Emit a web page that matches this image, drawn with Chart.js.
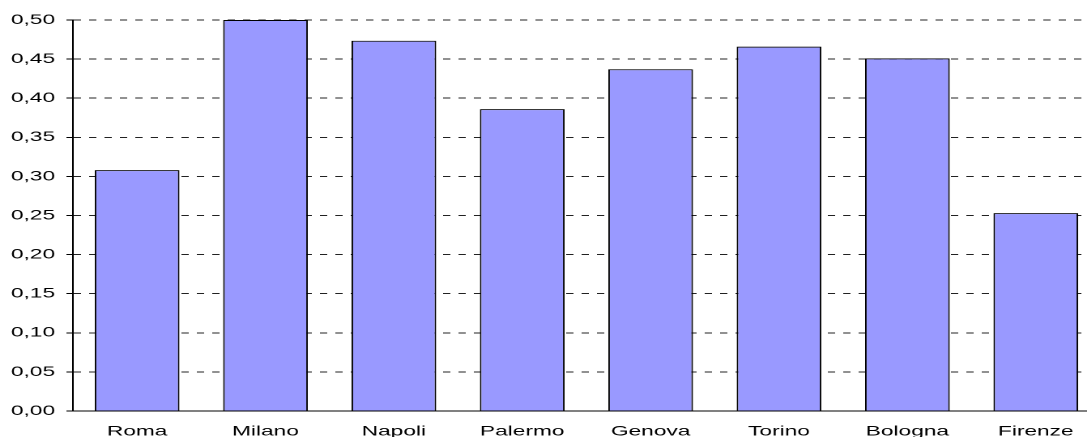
<!DOCTYPE html>
<html>
<head>
<meta charset="utf-8">
<script src="https://cdn.jsdelivr.net/npm/chart.js@4"></script>
<style>
	html, body { margin: 0; padding: 0; background: #fff; }
	#clip { width: 1087px; height: 437px; overflow: hidden; }
	/* the reference is stretched sideways, text included, so draw narrow and scale */
	#wrap { position: relative; width: 679px; height: 437px; transform: scaleX(1.62); transform-origin: 0 0; }
</style>
</head>
<body>
<div id="clip"><div id="wrap"><canvas id="chart"></canvas></div></div>
<script>
	const cities = [ 'Roma', 'Milano', 'Napoli', 'Palermo', 'Genova', 'Torino', 'Bologna', 'Firenze' ];
	const values = [ 0.308, 0.50, 0.4735, 0.386, 0.437, 0.466, 0.451, 0.253 ];
	const yTicks = [ 0, 0.05, 0.10, 0.15, 0.20, 0.25, 0.30, 0.35, 0.40, 0.45, 0.50 ];

	const font = { family: "'Liberation Sans', Arial, sans-serif", size: 14 };

	new Chart( document.getElementById( 'chart' ), {
		type: 'bar',
		data: {
			labels: cities,
			datasets: [ {
				data: values,
				backgroundColor: '#9999ff',
				borderColor: '#000',
				borderWidth: 1,
				borderSkipped: 'bottom',
				barPercentage: 0.66,
				categoryPercentage: 1,
			} ],
		},
		options: {
			responsive: true,
			maintainAspectRatio: false,
			devicePixelRatio: 2,
			animation: false,
			layout: { padding: { top: 20, right: 0, bottom: 0, left: 0 } },
			plugins: { legend: { display: false }, tooltip: { enabled: false } },
			scales: {
				x: {
					grid: { display: false, drawTicks: false },
					border: { display: true, color: '#000', width: 1 },
					ticks: { color: '#000', font, padding: 12, maxRotation: 0 },
					afterFit: ( s ) => { s.height = 26; },
				},
				y: {
					min: 0,
					max: 0.5,
					afterBuildTicks: ( s ) => { s.ticks = yTicks.map( ( v ) => ( { value: v } ) ); },
					grid: { color: '#222', lineWidth: 1, tickLength: 4, tickColor: '#000', tickBorderDash: [] },
					border: { display: true, color: '#000', width: 1, dash: [ 4.5, 5 ] },
					ticks: { color: '#000', font, padding: 7, callback: ( v ) => Number( v ).toFixed( 2 ).replace( '.', ',' ) },
					afterFit: ( s ) => { s.width = 45; },
				},
			},
		},
	} );
</script>
</body>
</html>
